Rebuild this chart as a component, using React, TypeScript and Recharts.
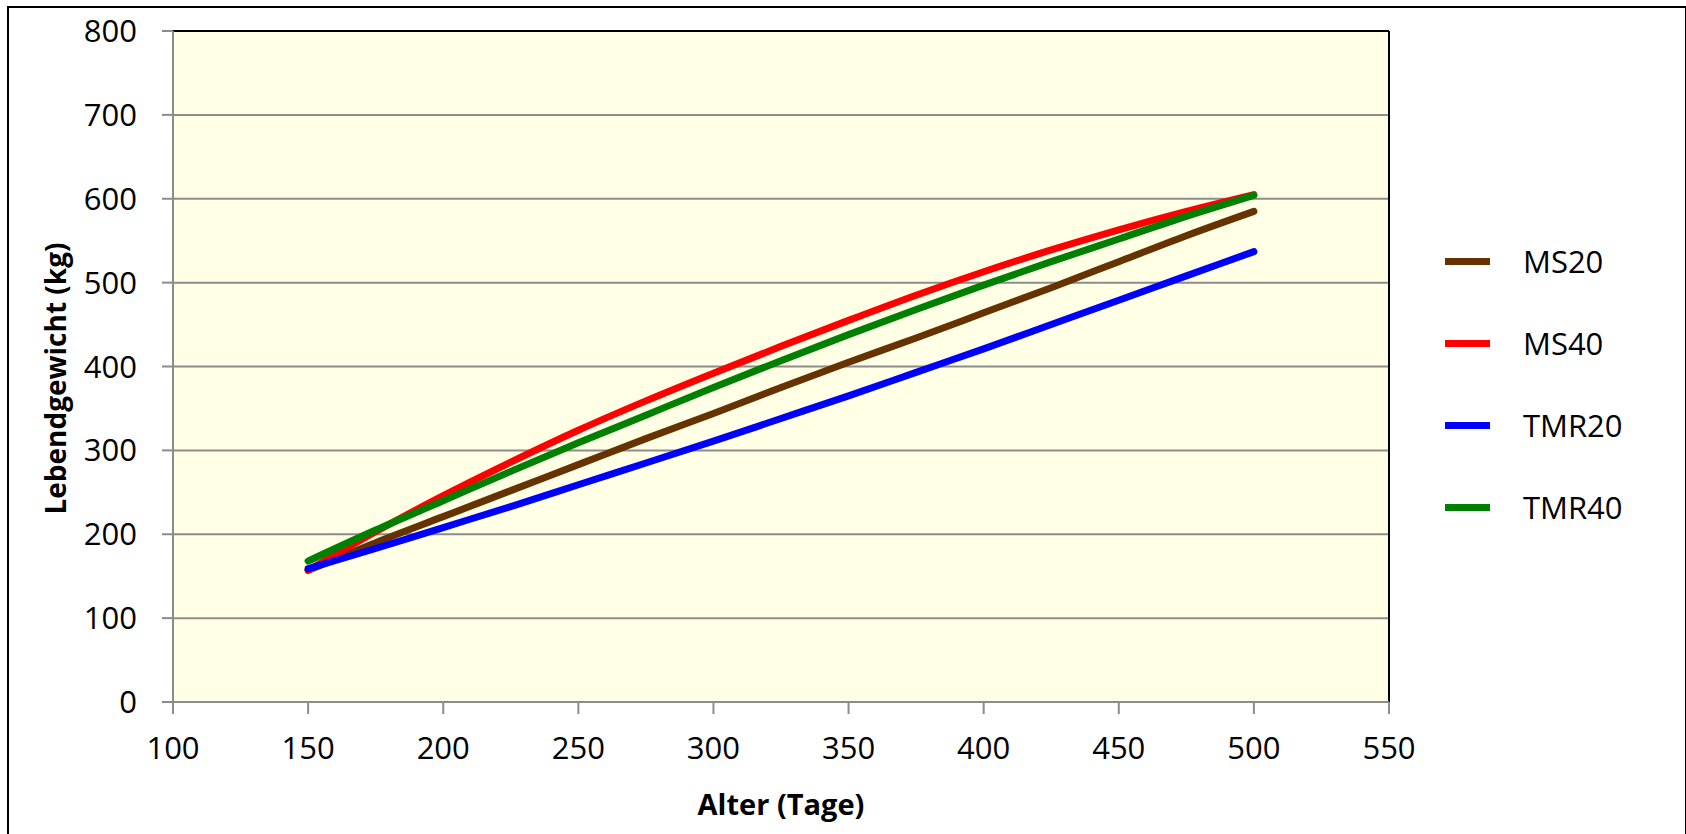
import React from 'react';
import { LineChart, Line, XAxis, YAxis, CartesianGrid, Legend, ReferenceLine, Label } from 'recharts';

const days = [150, 175, 200, 225, 250, 275, 300, 325, 350, 375, 400, 425, 450, 475, 500];
const ms20 = [157, 190, 221, 252, 283, 314, 344, 375, 405, 434, 464, 494, 525, 556, 585];
const ms40 = [157, 203, 246, 286, 324, 359, 392, 424, 455, 485, 513, 539, 563, 585, 605];
const tmr20 = [159, 183, 208, 233, 259, 285, 311, 338, 365, 393, 421, 450, 479, 508, 537];
const tmr40 = [168, 205, 240, 275, 309, 342, 375, 407, 438, 468, 497, 525, 552, 579, 604];

const xTicks = [100, 150, 200, 250, 300, 350, 400, 450, 500, 550];
const yTicks = [0, 100, 200, 300, 400, 500, 600, 700, 800];

const seriesNames = ['MS20', 'MS40', 'TMR20', 'TMR40'];
const seriesColors = ['#663300', '#FF0000', '#0000FF', '#008000'];

const data = days.map((d, i) => ({ x: d, MS20: ms20[i], MS40: ms40[i], TMR20: tmr20[i], TMR40: tmr40[i] }));

const FONT = '"Open Sans", "Liberation Sans", sans-serif';
const GRID = '#8c8c8c';

const renderLegend = (props: any) => {
  const { payload } = props;
  return (
    <div style={{ fontFamily: FONT }}>
      {(payload || []).map((p: any) => (
        <div key={p.value} style={{ height: 82, display: 'flex', alignItems: 'center' }}>
          <div style={{ width: 45, height: 7, background: p.color }} />
          <div style={{ marginLeft: 33, fontSize: 31, color: '#000', lineHeight: '31px' }}>{p.value}</div>
        </div>
      ))}
    </div>
  );
};

const YTitle = (props: any) => {
  const vb = props.viewBox || { x: 0, y: 31, width: 173, height: 671 };
  const cx = 66;
  const cy = vb.y + vb.height / 2 + 12;
  return (
    <text x={cx} y={cy} transform={`rotate(-90, ${cx}, ${cy})`} textAnchor="middle" fontSize={28} fontWeight="bold" fontFamily={FONT} fill="#000">
      Lebendgewicht (kg)
    </text>
  );
};

const XTitle = (props: any) => {
  const vb = props.viewBox || { x: 173, y: 702, width: 1216, height: 132 };
  return (
    <text x={vb.x + vb.width / 2} y={vb.y + 113} textAnchor="middle" fontSize={29} fontWeight="bold" fontFamily={FONT} fill="#000">
      Alter (Tage)
    </text>
  );
};

export default function App() {
  return (
    <div style={{ position: 'fixed', left: 0, top: 0, width: 1686, height: 834, overflow: 'hidden', background: '#fff' }}>
      <div style={{ position: 'absolute', left: 7, top: 6, width: 1680, height: 900, border: '2px solid #000', boxSizing: 'border-box' }} />
      <div style={{ position: 'absolute', left: 0, top: 0 }}>
        <LineChart width={1686} height={834} data={data} margin={{ top: 31, right: 57, bottom: 0, left: 0 }} style={{ fontFamily: FONT }}>
          <CartesianGrid vertical={false} stroke={GRID} strokeWidth={2} fill="#FFFFE5" fillOpacity={1} />
          <XAxis
            type="number"
            dataKey="x"
            domain={[100, 550]}
            ticks={xTicks}
            interval={0}
            height={132}
            tickSize={12}
            tickMargin={23}
            stroke={GRID}
            strokeWidth={2}
            tick={{ fill: '#000', fontSize: 31, fontFamily: FONT }}
            tickLine={{ stroke: GRID, strokeWidth: 2 }}
          >
            <Label content={<XTitle />} />
          </XAxis>
          <YAxis
            type="number"
            domain={[0, 800]}
            ticks={yTicks}
            interval={0}
            width={173}
            tickSize={11}
            tickMargin={25}
            stroke={GRID}
            strokeWidth={2}
            tick={{ fill: '#000', fontSize: 31, fontFamily: FONT }}
            tickLine={{ stroke: GRID, strokeWidth: 2 }}
          >
            <Label content={<YTitle />} />
          </YAxis>
          <ReferenceLine y={800} stroke="#000" strokeWidth={2} />
          <ReferenceLine x={550} stroke="#000" strokeWidth={2} />
          {seriesNames.map((name, i) => (
            <Line
              key={name}
              type="monotone"
              dataKey={name}
              name={name}
              stroke={seriesColors[i]}
              strokeWidth={7}
              strokeLinecap="round"
              dot={false}
              activeDot={false}
              isAnimationActive={false}
            />
          ))}
          <Legend
            content={renderLegend}
            layout="vertical"
            align="right"
            verticalAlign="middle"
            wrapperStyle={{ position: 'absolute', left: 1445, top: 220, width: 240, right: 'auto', bottom: 'auto' }}
          />
        </LineChart>
      </div>
    </div>
  );
}
